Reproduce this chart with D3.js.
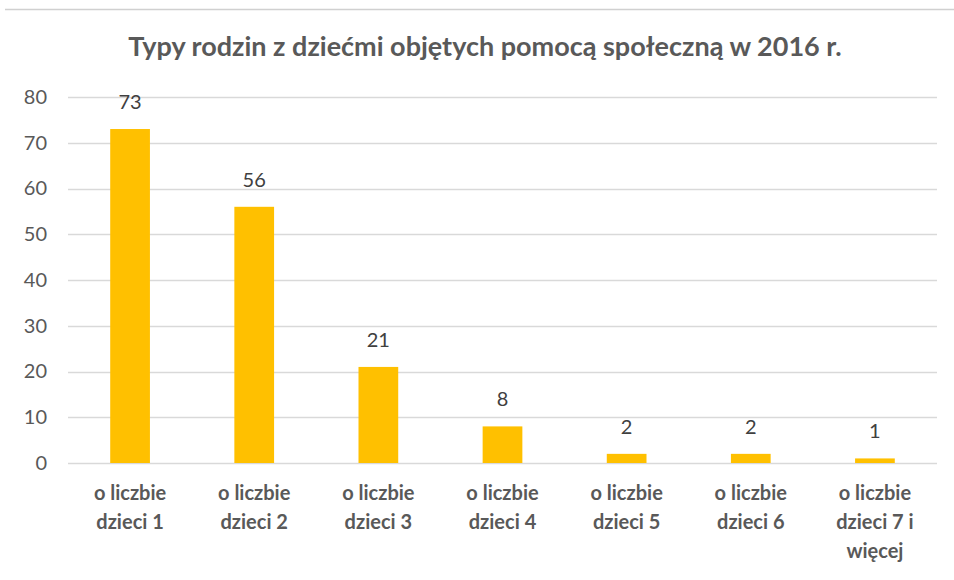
<!DOCTYPE html>
<html>
<head>
<meta charset="utf-8">
<script src="https://cdn.jsdelivr.net/npm/d3@7"></script>
<style>
  body { margin: 0; background: #fff; }
  text { font-family: Lato, "Open Sans", sans-serif; }
</style>
</head>
<body>
<script>
// data
var categories = [
  ["o liczbie", "dzieci 1"],
  ["o liczbie", "dzieci 2"],
  ["o liczbie", "dzieci 3"],
  ["o liczbie", "dzieci 4"],
  ["o liczbie", "dzieci 5"],
  ["o liczbie", "dzieci 6"],
  ["o liczbie", "dzieci 7 i", "więcej"]
];
var values = [73, 56, 21, 8, 2, 2, 1];
var yTicks = [0, 10, 20, 30, 40, 50, 60, 70, 80];
var title = "Typy rodzin z dziećmi objętych pomocą społeczną w 2016 r.";

var width = 954;
var height = 580;
var margin = {left: 68, right: 17, top: 97, bottom: 117};

var svg = d3.select("body")
  .append("svg")
  .attr("width", width)
  .attr("height", height);

// top border line
svg.append("line")
  .attr("x1", 5).attr("x2", width)
  .attr("y1", 9.5).attr("y2", 9.5)
  .attr("stroke", "#d0d0d0")
  .attr("stroke-width", 1.5);

svg.append("text")
  .attr("x", 485)
  .attr("y", 56)
  .attr("text-anchor", "middle")
  .attr("fill", "#595959")
  .attr("font-size", 27)
  .attr("font-weight", "bold")
  .text(title);

var x = d3.scaleBand()
  .domain(d3.range(values.length))
  .range([margin.left, width - margin.right])
  .paddingInner(0.68)
  .paddingOuter(0.34);

var y = d3.scaleLinear()
  .domain([0, 80])
  .range([height - margin.bottom, margin.top]);

// gridlines
svg.append("g")
  .selectAll("line")
  .data(yTicks)
  .join("line")
    .attr("x1", margin.left)
    .attr("x2", width - margin.right)
    .attr("y1", d => Math.round(y(d)) + 0.5)
    .attr("y2", d => Math.round(y(d)) + 0.5)
    .attr("stroke", "#d9d9d9")
    .attr("stroke-width", 1.3);

// y axis labels
var yAxis = svg.append("g")
  .attr("transform", `translate(${margin.left}, 0)`)
  .call(d3.axisLeft(y).tickValues(yTicks).tickSize(0).tickPadding(21));
yAxis.select(".domain").remove();
yAxis.selectAll("text")
  .attr("fill", "#595959")
  .attr("font-size", 20)
  .style("font-family", "Lato, 'Open Sans', sans-serif");

// bars
svg.append("g")
  .selectAll("rect")
  .data(values)
  .join("rect")
    .attr("x", (d, i) => x(i))
    .attr("y", d => y(d))
    .attr("width", x.bandwidth())
    .attr("height", d => y(0) - y(d))
    .attr("fill", "#FFC000");

// value labels
svg.append("g")
  .selectAll("text")
  .data(values)
  .join("text")
    .attr("x", (d, i) => x(i) + x.bandwidth() / 2)
    .attr("y", d => y(d) - 20)
    .attr("text-anchor", "middle")
    .attr("fill", "#404040")
    .attr("font-size", 20)
    .text(d => d);

// category labels
var catG = svg.append("g")
  .selectAll("text")
  .data(categories)
  .join("text")
    .attr("x", (d, i) => x(i) + x.bandwidth() / 2)
    .attr("y", 500)
    .attr("text-anchor", "middle")
    .attr("fill", "#595959")
    .attr("font-size", 20)
    .attr("font-weight", "bold");
catG.selectAll("tspan")
  .data(d => d)
  .join("tspan")
    .attr("x", function() { return d3.select(this.parentNode).attr("x"); })
    .attr("dy", (d, i) => i === 0 ? 0 : 29)
    .text(d => d);
</script>
</body>
</html>
